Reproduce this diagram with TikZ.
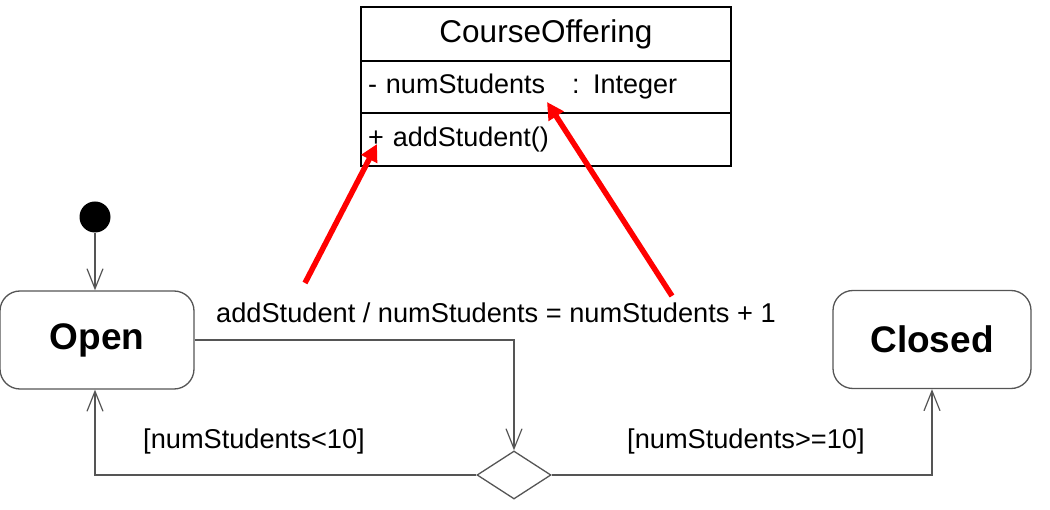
\documentclass[tikz,border=0pt]{standalone}
\usepackage{fontspec}
\setmainfont{Liberation Sans}
\usetikzlibrary{arrows.meta,shapes.geometric}
\definecolor{ln}{HTML}{555555}
\definecolor{rd}{HTML}{FF0000}
\begin{document}
\begin{tikzpicture}[x=1pt,y=-1pt,
  txt/.style={font=\fontsize{27.2}{30}\selectfont, inner sep=0pt},
  state/.style={draw=ln, line width=1.3pt, rounded corners=20pt, minimum width=194pt, minimum height=98pt, font=\fontsize{37}{40}\selectfont\bfseries, inner sep=0pt},
  tr/.style={draw=ln, line width=1.3pt, -{Straight Barb[length=20pt,width=16pt,line width=1.2pt]}},
  note/.style={draw=rd, line width=5.5pt, -{Triangle[length=17pt,width=17pt]}},
  compart/.style={draw=black, line width=1.2pt, text width=356pt, inner xsep=7pt, inner ysep=0pt, outer sep=0pt, font=\fontsize{27}{30}\selectfont, align=left}
]
\useasboundingbox (0,0) rectangle (1050,510);
% class box
\node[compart, minimum height=54pt, align=center, font=\fontsize{31.5}{33}\selectfont] (cname) at (546,34) {CourseOffering};
\node[compart, minimum height=52pt, anchor=north] (cattr) at (cname.south) {- numStudents\hspace{27pt}: Integer};
\node[compart, minimum height=53pt, anchor=north] (cop) at (cattr.south) {+ addStudent()};
% states
\node[circle, fill=black, minimum size=31pt, inner sep=0pt] (init) at (95,217) {};
\node[state] (open) at (97,340) {Open};
\node[state, minimum width=198pt] (closed) at (932,339.5) {Closed};
\node[diamond, draw=ln, line width=1.3pt, minimum width=74pt, minimum height=48pt, inner sep=0pt] (dec) at (514,475) {};
% transitions
\draw[tr] (init) -- (open.north -| init);
\draw[tr] (open.east) -| (dec.north);
\draw[tr] (dec.west) -| (open.south -| init);
\draw[tr] (dec.east) -| (closed.south);
% labels
\node[txt, anchor=west] (lbl) at (216,313) {addStudent / numStudents = numStudents + 1};
\node[txt, anchor=west] (g1) at (143,441) {[numStudents<10]};
\node[txt, anchor=west] (g2) at (627,441) {[numStudents>=10]};
% red notes
\coordinate (n1s) at (305,283);
\coordinate (n1e) at (377,144);
\coordinate (n2s) at (672,296);
\coordinate (n2e) at (547,102);
\draw[note] (n1s) -- (n1e);
\draw[note] (n2s) -- (n2e);
\end{tikzpicture}
\end{document}
